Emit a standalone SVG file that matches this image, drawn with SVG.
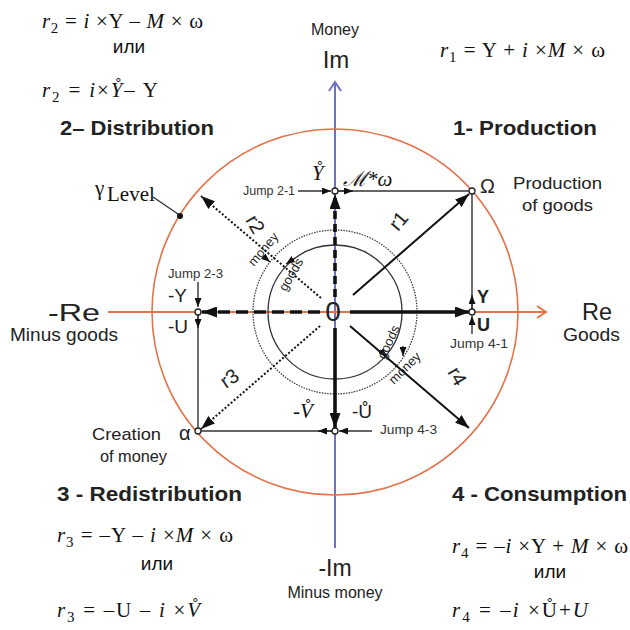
<svg xmlns="http://www.w3.org/2000/svg" width="630" height="630" viewBox="0 0 630 630">
<style>
.f{font-family:"Liberation Serif","Times New Roman",serif;font-size:21px;fill:#111}
.it{font-style:italic}
.sub{font-size:15px}
.s{font-family:"Liberation Sans",Arial,sans-serif;fill:#222}
.t{font-family:"Liberation Sans",Arial,sans-serif;font-weight:bold;font-size:21px;fill:#222}
.ili{font-family:"Liberation Sans",Arial,sans-serif;font-size:19px;fill:#111}
.jmp{font-family:"Liberation Sans",Arial,sans-serif;font-size:12.5px;fill:#333}
.thin{stroke:#333;stroke-width:1.4;fill:none}
.thick{stroke:#111;stroke-width:3.6;fill:none}
.vec{stroke:#111;stroke-width:2;fill:none}
.dot{stroke:#111;stroke-width:2;stroke-dasharray:2 2;fill:none}
.pt{fill:#fff;stroke:#222;stroke-width:1.3}
</style>
<defs>
<marker id="big" viewBox="0 0 10 10" refX="10" refY="5" markerWidth="15" markerHeight="11" markerUnits="userSpaceOnUse" orient="auto" preserveAspectRatio="none"><path d="M0,0 L10,5 L0,10 z" fill="#111"/></marker>
<marker id="med" viewBox="0 0 10 10" refX="10" refY="5" markerWidth="14" markerHeight="10" markerUnits="userSpaceOnUse" orient="auto" preserveAspectRatio="none"><path d="M0,0 L10,5 L0,10 z" fill="#111"/></marker>
<marker id="sm" viewBox="0 0 10 10" refX="10" refY="5" markerWidth="9" markerHeight="7" markerUnits="userSpaceOnUse" orient="auto" preserveAspectRatio="none"><path d="M0,0 L10,5 L0,10 z" fill="#111"/></marker>
</defs>

<g id="axes">
<line x1="335" y1="82" x2="335" y2="548" stroke="#6f6fc4" stroke-width="2"/>
<polyline points="329,91 335,82 341,91" fill="none" stroke="#6f6fc4" stroke-width="2"/>
<line x1="108" y1="312" x2="546" y2="312" stroke="#e2734b" stroke-width="2"/>
<polyline points="537,306 546,312 537,318" fill="none" stroke="#e2734b" stroke-width="2"/>
<circle cx="335" cy="312" r="183" fill="none" stroke="#e2734b" stroke-width="1.6"/>
<circle cx="335" cy="312" r="82" fill="none" stroke="#333" stroke-width="1.2" stroke-dasharray="1.5 1.2"/>
<circle cx="335" cy="312" r="67" fill="none" stroke="#333" stroke-width="1.3"/>
</g>

<g id="connectors">
<line class="thick" x1="350" y1="312" x2="470" y2="312" marker-end="url(#big)"/>
<line class="thick" x1="320" y1="312" x2="202" y2="312" stroke-dasharray="12 6" marker-end="url(#big)"/>
<line class="thick" x1="335" y1="297" x2="335" y2="194" stroke-dasharray="8 5" marker-end="url(#big)"/>
<line class="thick" x1="335" y1="328" x2="335" y2="428" marker-end="url(#big)"/>
<line class="vec" x1="353" y1="295" x2="469" y2="194" marker-end="url(#med)"/>
<line class="dot" x1="321" y1="298" x2="201" y2="196" marker-end="url(#med)"/>
<line class="dot" x1="320" y1="326" x2="201" y2="429" marker-end="url(#med)"/>
<line class="vec" x1="350" y1="326" x2="469" y2="428" marker-end="url(#med)"/>
<line class="thin" x1="335" y1="191" x2="472" y2="191"/>
<line class="thin" x1="472" y1="191" x2="472" y2="312"/>
<line class="thin" x1="198" y1="312" x2="198" y2="431"/>
<line class="thin" x1="198" y1="431" x2="335" y2="431"/>
<line class="thin" x1="338" y1="191" x2="353" y2="191" marker-end="url(#sm)"/>
<line class="thin" x1="472" y1="309" x2="472" y2="295" marker-end="url(#sm)"/>
<line class="thin" x1="198" y1="315" x2="198" y2="328" marker-end="url(#sm)"/>
<line class="thin" x1="332" y1="431" x2="318" y2="431" marker-end="url(#sm)"/>
<line class="thin" x1="298" y1="191" x2="331" y2="191" marker-end="url(#sm)"/>
<line class="thin" x1="198" y1="282" x2="198" y2="307" marker-end="url(#sm)"/>
<line class="thin" x1="472" y1="334" x2="472" y2="316" marker-end="url(#sm)"/>
<line class="thin" x1="372" y1="431" x2="339" y2="431" marker-end="url(#sm)"/>
<line class="thin" x1="153" y1="197" x2="178" y2="214"/>
<circle cx="180" cy="216" r="3" fill="#111"/>
<line class="thin" x1="263" y1="256" x2="270" y2="262" marker-end="url(#sm)"/>
<line class="thin" x1="295" y1="258" x2="286" y2="264" marker-end="url(#sm)"/>
<line class="thin" x1="380" y1="350" x2="387" y2="357" marker-end="url(#sm)"/>
<line class="thin" x1="403" y1="346" x2="403" y2="356" marker-end="url(#sm)"/>
</g>

<g id="nodes">
<g id="p-mw"><circle class="pt" cx="335" cy="191" r="3"/></g>
<g id="p-omega"><circle class="pt" cx="472" cy="191" r="3"/></g>
<g id="p-y"><circle class="pt" cx="472" cy="312" r="3"/></g>
<g id="p-negy"><circle class="pt" cx="198" cy="312" r="3"/></g>
<g id="p-alpha"><circle class="pt" cx="198" cy="431" r="3"/></g>
<g id="p-bottom"><circle class="pt" cx="335" cy="431" r="3"/></g>
</g>

<g id="labels">
<text class="s" x="335" y="35" font-size="16" text-anchor="middle">Money</text>
<text class="s" x="336" y="68" font-size="24" text-anchor="middle">Im</text>
<text class="s" x="335" y="576" font-size="23" text-anchor="middle">-Im</text>
<text class="s" x="335" y="598" font-size="16" text-anchor="middle">Minus money</text>
<text class="s" x="48" y="321" font-size="24" textLength="52" lengthAdjust="spacingAndGlyphs">-Re</text>
<text class="s" x="10" y="341" font-size="18" textLength="108" lengthAdjust="spacingAndGlyphs">Minus goods</text>
<text class="s" x="582" y="320" font-size="23" textLength="30" lengthAdjust="spacingAndGlyphs">Re</text>
<text class="s" x="563" y="341" font-size="18" textLength="57" lengthAdjust="spacingAndGlyphs">Goods</text>
<text class="s" x="333" y="321" font-size="28" text-anchor="middle">0</text>

<text class="t" x="453" y="135" textLength="144" lengthAdjust="spacingAndGlyphs">1- Production</text>
<text class="t" x="60" y="135" textLength="154" lengthAdjust="spacingAndGlyphs">2– Distribution</text>
<text class="t" x="57" y="501" textLength="185" lengthAdjust="spacingAndGlyphs">3 - Redistribution</text>
<text class="t" x="452" y="501" textLength="175" lengthAdjust="spacingAndGlyphs">4 - Consumption</text>

<text class="s" x="480" y="193" font-size="20">Ω</text>
<text class="s" x="513" y="189" font-size="16.5" textLength="89" lengthAdjust="spacingAndGlyphs">Production</text>
<text class="s" x="522" y="211" font-size="16.5" textLength="71" lengthAdjust="spacingAndGlyphs">of goods</text>
<text class="f it" x="343" y="186" font-size="15">ℳ*ω</text>
<text class="f it" x="312" y="180" font-size="21">Y&#x30A;</text>
<text class="jmp" x="243" y="195" textLength="52" lengthAdjust="spacingAndGlyphs">Jump 2-1</text>
<text class="s" x="477" y="303" font-size="18" font-weight="bold">Y</text>
<text class="s" x="477" y="331" font-size="18" font-weight="bold">U</text>
<text class="jmp" x="450" y="348" textLength="58" lengthAdjust="spacingAndGlyphs">Jump 4-1</text>
<text class="s" x="168" y="302" font-size="19">-Y</text>
<text class="s" x="168" y="333" font-size="19">-U</text>
<text class="jmp" x="168" y="278" textLength="55" lengthAdjust="spacingAndGlyphs">Jump 2-3</text>
<text class="s" x="179" y="440" font-size="20">α</text>
<text class="s" x="92" y="440" font-size="17" textLength="69" lengthAdjust="spacingAndGlyphs">Creation</text>
<text class="s" x="100" y="462" font-size="17" textLength="67" lengthAdjust="spacingAndGlyphs">of money</text>
<text class="f it" x="293" y="418" font-size="21">-V&#x30A;</text>
<text class="s" x="352" y="418" font-size="19">-U&#x30A;</text>
<text class="jmp" x="380" y="434" textLength="57" lengthAdjust="spacingAndGlyphs">Jump 4-3</text>

<text class="f" x="95" y="195" font-size="18">γ</text>
<text class="f" x="107" y="201" font-size="14.5">Level</text>

<text class="s" font-size="20" transform="translate(398,232) rotate(-50)">r1</text>
<text class="s" font-size="20" transform="translate(245,220) rotate(60)">r2</text>
<text class="s" font-size="20" transform="translate(226,389) rotate(-35)">r3</text>
<text class="s" font-size="20" transform="translate(447,372) rotate(60)">r4</text>
<text class="s" font-size="13" transform="translate(254,267) rotate(-50)">money</text>
<text class="s" font-size="13" transform="translate(286,292) rotate(-60)">goods</text>
<text class="s" font-size="13" transform="translate(385,360) rotate(-65)">goods</text>
<text class="s" font-size="13" transform="translate(394,385) rotate(-45)">money</text>
</g>

<g id="formulas">
<text class="f" x="42" y="28" textLength="161" lengthAdjust="spacing"><tspan class="it">r</tspan><tspan class="sub" dy="5">2</tspan><tspan dy="-5"> = </tspan><tspan class="it">i</tspan> ×Y – <tspan class="it">M</tspan> × ω</text>
<text class="ili" x="129" y="53" text-anchor="middle">или</text>
<text class="f" x="42" y="97" textLength="116" lengthAdjust="spacing"><tspan class="it">r</tspan><tspan class="sub" dy="5">2</tspan><tspan dy="-5"> = </tspan><tspan class="it">i</tspan>×<tspan class="it">Y&#x30A;</tspan>– Y</text>

<text class="f" x="440" y="57" textLength="165" lengthAdjust="spacing"><tspan class="it">r</tspan><tspan class="sub" dy="5">1</tspan><tspan dy="-5"> = Y + </tspan><tspan class="it">i</tspan> ×<tspan class="it">M</tspan> × ω</text>

<text class="f" x="57" y="542" textLength="176" lengthAdjust="spacing"><tspan class="it">r</tspan><tspan class="sub" dy="5">3</tspan><tspan dy="-5"> = –Y – </tspan><tspan class="it">i</tspan> ×<tspan class="it">M</tspan> × ω</text>
<text class="ili" x="157" y="570" text-anchor="middle">или</text>
<text class="f" x="57" y="617" textLength="143" lengthAdjust="spacing"><tspan class="it">r</tspan><tspan class="sub" dy="5">3</tspan><tspan dy="-5"> = –U – </tspan><tspan class="it">i</tspan> ×<tspan class="it">V&#x30A;</tspan></text>

<text class="f" x="452" y="553" textLength="176" lengthAdjust="spacing"><tspan class="it">r</tspan><tspan class="sub" dy="5">4</tspan><tspan dy="-5"> = –</tspan><tspan class="it">i</tspan> ×Y + <tspan class="it">M</tspan> × ω</text>
<text class="ili" x="550" y="578" text-anchor="middle">или</text>
<text class="f" x="452" y="617" textLength="136" lengthAdjust="spacing"><tspan class="it">r</tspan><tspan class="sub" dy="5">4</tspan><tspan dy="-5"> = –</tspan><tspan class="it">i</tspan> ×U&#x30A;+<tspan class="it">U</tspan></text>
</g>
</svg>
